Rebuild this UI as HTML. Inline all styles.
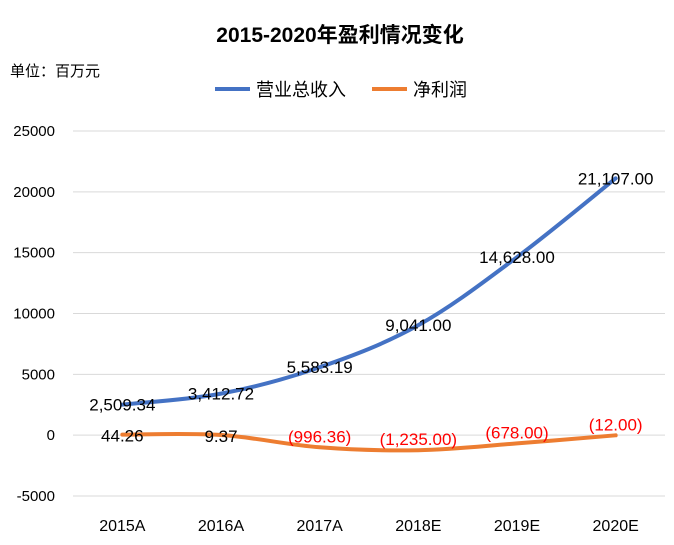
<!DOCTYPE html>
<html><head><meta charset="utf-8"><style>
body{margin:0;background:#fff;}
svg{display:block;font-family:"Liberation Sans","Noto Sans CJK SC",sans-serif;}
</style></head><body>
<svg id="chart" width="674" height="545">
<text x="340" y="42" text-anchor="middle" font-size="21" font-weight="bold">2015-2020年盈利情况变化</text>
<text x="10" y="76" font-size="15">单位：百万元</text>
<g>
<g><line x1="215" y1="89" x2="250" y2="89" stroke="#4472C4" stroke-width="4"/><text x="256" y="96" font-size="18">营业总收入</text></g>
<g><line x1="372" y1="89" x2="407" y2="89" stroke="#ED7D31" stroke-width="4"/><text x="413" y="96" font-size="18">净利润</text></g>
</g>
<g id="grid"></g><g id="series"></g><g id="labels"></g>
</svg>
<script>
const categories=["2015A","2016A","2017A","2018E","2019E","2020E"];
const revenue=[2509.34,3412.72,5583.19,9041.00,14628.00,21107.00];
const profit=[44.26,9.37,-996.36,-1235.00,-678.00,-12.00];
const yTicks=[-5000,0,5000,10000,15000,20000,25000];
const NS="http://www.w3.org/2000/svg";
const x0=73,x1=665,yMin=-5000,yMax=25000,py0=496,py1=131;
function xs(i){return x0+(x1-x0)/categories.length*(i+0.5);}
function ys(v){return py0-(v-yMin)/(yMax-yMin)*(py0-py1);}
function mk(tag,attrs,parent){const e=document.createElementNS(NS,tag);for(const k in attrs)e.setAttribute(k,attrs[k]);parent.appendChild(e);return e;}
const grid=document.getElementById('grid'),ser=document.getElementById('series'),lab=document.getElementById('labels');
yTicks.forEach(t=>{
 const l=mk('line',{x1:x0,x2:x1,y1:ys(t),y2:ys(t),stroke:'#d9d9d9','stroke-width':1},grid);
 
 
 const tx=mk('text',{x:55,y:ys(t)+5,'text-anchor':'end','font-size':15},grid);
 tx.textContent=t;
 
 
});
categories.forEach((c,i)=>{
 const tx=mk('text',{x:xs(i),y:531,'text-anchor':'middle','font-size':16},grid);
 tx.textContent=c;
 
 
});
function smooth(vals){
 const p=vals.map((v,i)=>[xs(i),ys(v)]);let d='M'+p[0][0]+','+p[0][1];
 for(let i=0;i<p.length-1;i++){const a=p[i-1]||p[i],b=p[i],c=p[i+1],e=p[i+2]||c;
  const t=0.17;d+=' C'+(b[0]+(c[0]-a[0])*t)+','+(b[1]+(c[1]-a[1])*t)+' '+(c[0]-(e[0]-b[0])*t)+','+(c[1]-(e[1]-b[1])*t)+' '+c[0]+','+c[1];}
 return d;}
const r=mk('path',{d:smooth(revenue),fill:'none',stroke:'#4472C4','stroke-width':4,'stroke-linecap':'round'},ser);


const p=mk('path',{d:smooth(profit),fill:'none',stroke:'#ED7D31','stroke-width':4,'stroke-linecap':'round'},ser);


function fmt(v){const s=Math.abs(v).toLocaleString('en-US',{minimumFractionDigits:2,maximumFractionDigits:2});return v<0?'('+s+')':s;}
revenue.forEach((v,i)=>{
 const tx=mk('text',{x:xs(i),y:ys(v)+6,'text-anchor':'middle','font-size':17},lab);
 tx.textContent=fmt(v);
 
 
});
profit.forEach((v,i)=>{
 const tx=mk('text',{x:xs(i),y:ys(v)+(v<0?-5:7),'text-anchor':'middle','font-size':17,fill:v<0?'#FF0000':'#000'},lab);
 tx.textContent=fmt(v);
 
 
});
</script>
</body></html>
